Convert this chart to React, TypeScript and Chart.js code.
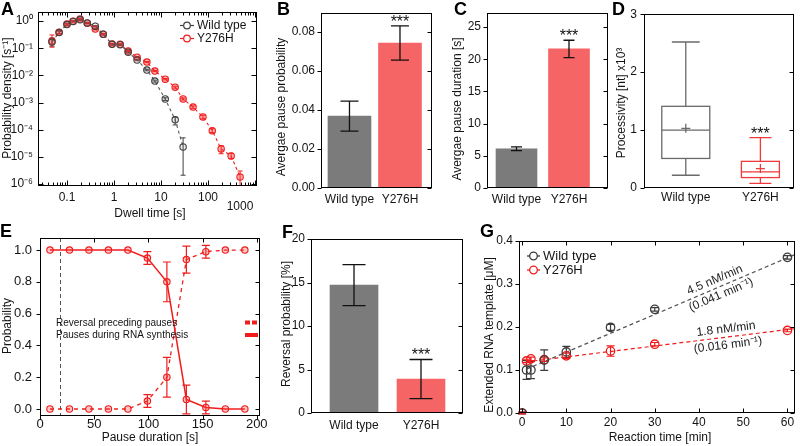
import React, { useEffect, useRef } from 'react';
import { Chart, registerables } from 'chart.js';

Chart.register(...registerables);

const W = 800;
const H = 446;
const FONT = '"Liberation Sans", Arimo, Arial, Helvetica, sans-serif';
const INK = '#141414';
const GREY_BAR = '#7b7b7b';
const RED_BAR = '#f66565';
const RED = '#f01c1c';
const GREY_PT = '#404040';

Chart.defaults.font.family = FONT;
Chart.defaults.font.size = 12;
Chart.defaults.color = INK;

// ---------------- data ----------------
const groups = ['Wild type', 'Y276H'];
const sigMarks = ['', '***'];

// Panel A – dwell time distribution
const dwellTimeWT = [0.048, 0.068, 0.1, 0.135, 0.19, 0.27, 0.4, 0.59, 0.91, 1.35, 2.0, 3.1, 5.0, 7.4, 12.3, 20, 29.5];
const densityWT = [0.17, 0.38, 0.75, 0.98, 1.12, 0.86, 0.65, 0.33, 0.14, 0.135, 0.072, 0.037, 0.0158, 0.0062, 0.00135, 0.00023, 2.3e-5];
const densityWTLo = [0.12, 0.34, 0.7, 0.93, 1.07, 0.82, 0.62, 0.31, 0.13, 0.127, 0.068, 0.035, 0.0148, 0.0057, 0.0012, 0.00015, 2.1e-6];
const densityWTHi = [0.24, 0.43, 0.8, 1.03, 1.17, 0.9, 0.68, 0.35, 0.15, 0.143, 0.076, 0.039, 0.0168, 0.0067, 0.0015, 0.00029, 5.0e-5];
const dwellTimeMut = [0.048, 0.068, 0.1, 0.135, 0.19, 0.27, 0.4, 0.59, 0.91, 1.35, 2.0, 3.1, 5.0, 7.4, 12.3, 20, 29.5, 48, 78, 123, 190, 310, 480];
const densityMut = [0.184, 0.39, 0.78, 1.0, 1.19, 0.84, 0.51, 0.33, 0.143, 0.14, 0.079, 0.047, 0.031, 0.0145, 0.0073, 0.0037, 0.00135, 0.00068, 0.000295, 9.2e-5, 1.95e-5, 1.07e-5, 1.8e-6];
const densityMutLo = [0.11, 0.34, 0.72, 0.94, 1.12, 0.79, 0.48, 0.31, 0.135, 0.132, 0.075, 0.045, 0.0295, 0.0138, 0.0069, 0.0034, 0.00124, 0.00061, 0.00025, 7.8e-5, 1.3e-5, 8.5e-6, 7.8e-7];
const densityMutHi = [0.31, 0.45, 0.84, 1.06, 1.26, 0.89, 0.54, 0.35, 0.151, 0.148, 0.083, 0.049, 0.0325, 0.0152, 0.0077, 0.004, 0.00146, 0.00075, 0.00034, 1.08e-4, 2.6e-5, 1.35e-5, 3.0e-6];
const dwellTicksX = [0.1, 1, 10, 100, 1000];
const dwellTicksY = [1e-6, 1e-5, 1e-4, 1e-3, 1e-2, 1e-1, 1];

// Panel B – average pause probability
const pauseProb = [0.0369, 0.0744];
const pauseProbErr = [0.0077, 0.0088];
const pauseProbTicks = [0, 0.02, 0.04, 0.06, 0.08];

// Panel C – average pause duration
const pauseDurAvg = [6.1, 21.6];
const pauseDurErr = [0.3, 1.35];
const pauseDurTicks = [0, 5, 10, 15, 20, 25];

// Panel D – processivity box plots [min, q1, median, q3, max]
const procWT = [0.22, 0.51, 1.0, 1.41, 2.52];
const procMut = [0.08, 0.18, 0.28, 0.46, 0.87];
const procMean = [1.03, 0.335];
const procTicks = [0, 1, 2, 3];

// Panel E – probability vs pause duration
const pauseBins = [9, 27, 45, 63, 81, 99, 117, 135, 153, 171, 189];
const probSynthesis = [1, 1, 1, 1, 1, 0.95, 0.8, 0.06, 0.01, 0, 0];
const probSynthesisErr = [0, 0, 0, 0, 0, 0.04, 0.125, 0.09, 0.04, 0, 0];
const probReversal = [0, 0, 0, 0, 0, 0.05, 0.2, 0.94, 0.99, 1, 1];
const probReversalErr = [0, 0, 0, 0, 0, 0.04, 0.125, 0.085, 0.04, 0, 0];
const pauseCutoff = 18;
const pauseTicksX = [0, 50, 100, 150, 200];
const probTicksY = [0, 0.2, 0.4, 0.6, 0.8, 1.0];

// Panel F – reversal probability
const revProb = [14.7, 3.9];
const revErr = [2.35, 2.25];
const revTicks = [0, 5, 10, 15, 20];

// Panel G – extended RNA template over time
const rxnTime = [0, 1, 2, 5, 10, 20, 30, 60];
const extWT = [0, 0.1, 0.1, 0.123, 0.142, 0.199, 0.241, 0.362];
const extWTErr = [0.002, 0.022, 0.02, 0.024, 0.013, 0.007, 0.004, 0.004];
const extMut = [0, 0.121, 0.126, 0.124, 0.133, 0.144, 0.16, 0.192];
const extMutErr = [0.002, 0.004, 0.004, 0.004, 0.006, 0.012, 0.004, 0.003];
const fitTime = [1, 61.6];
const fitWT = [0.102, 0.368];
const fitMut = [0.119, 0.196];
const rxnTicks = [0, 10, 20, 30, 40, 50, 60];
const extTicks = [0, 0.1, 0.2, 0.3, 0.4];
const rateLabelsWT = ['4.5 nM/min', '(0.041 min\u207B\u00B9)'];
const rateLabelsMut = ['1.8 nM/min', '(0.016 min\u207B\u00B9)'];

// ---------------- helpers ----------------
type Rect = { l: number; t: number; r: number; b: number };

function sup(n: number): string {
  const m: Record<string, string> = { '-': '\u207B', '0': '\u2070', '1': '\u00B9', '2': '\u00B2', '3': '\u00B3', '4': '\u2074', '5': '\u2075', '6': '\u2076', '7': '\u2077', '8': '\u2078', '9': '\u2079' };
  return String(n).split('').map((c) => m[c] ?? c).join('');
}

function text(ctx: any, s: string, x: number, y: number, o: any = {}) {
  ctx.save();
  ctx.font = `${o.bold ? 'bold ' : ''}${o.size ?? 12}px ${FONT}`;
  ctx.fillStyle = o.color ?? INK;
  ctx.textAlign = o.align ?? 'center';
  ctx.textBaseline = o.base ?? 'middle';
  ctx.translate(x, y);
  if (o.rot) ctx.rotate(o.rot);
  ctx.fillText(s, 0, 0);
  ctx.restore();
}

function vbar(ctx: any, x: number, y1: number, y2: number, cap: number, color: string, lw: number) {
  ctx.save();
  ctx.strokeStyle = color;
  ctx.lineWidth = lw;
  ctx.beginPath();
  ctx.moveTo(x, y1);
  ctx.lineTo(x, y2);
  if (cap > 0) {
    ctx.moveTo(x - cap / 2, y1);
    ctx.lineTo(x + cap / 2, y1);
    ctx.moveTo(x - cap / 2, y2);
    ctx.lineTo(x + cap / 2, y2);
  }
  ctx.stroke();
  ctx.restore();
}

function clipArea(ctx: any, a: any) {
  ctx.save();
  ctx.beginPath();
  ctx.rect(a.left, a.top, a.right - a.left, a.bottom - a.top);
  ctx.clip();
}

function letter(ctx: any, s: string, x: number, y: number) {
  text(ctx, s, x, y, { size: 18, bold: true, align: 'left', base: 'alphabetic', color: '#000' });
}

function stars(ctx: any, s: string, x: number, y: number) {
  if (s) text(ctx, s, x, y, { size: 16, base: 'alphabetic', color: '#111' });
}

interface FrameSpec {
  xMaj?: number[]; yMaj?: number[]; xMin?: number[];
  l?: number; r?: number; t?: number; b?: number;
  len?: number; mlen?: number;
}

function drawFrame(chart: any, f: FrameSpec) {
  const { ctx, chartArea: a } = chart;
  const xs = chart.scales.x;
  const ys = chart.scales.y;
  const L = Math.round(a.left) + 0.5;
  const R = Math.round(a.right) - 0.5;
  const T = Math.round(a.top) + 0.5;
  const B = Math.round(a.bottom) - 0.5;
  const len = f.len ?? 4;
  const mlen = f.mlen ?? 2;
  ctx.save();
  ctx.strokeStyle = '#000';
  ctx.lineWidth = 1;
  ctx.strokeRect(L, T, R - L, B - T);
  ctx.beginPath();
  const yt = (vals: number[], ln: number) => vals.forEach((v) => {
    const p = Math.round(ys.getPixelForValue(v)) + 0.5;
    if (p < a.top - 1 || p > a.bottom + 1) return;
    if (f.l) { ctx.moveTo(L, p); ctx.lineTo(L - f.l * ln, p); }
    if (f.r) { ctx.moveTo(R, p); ctx.lineTo(R + f.r * ln, p); }
  });
  const xt = (vals: number[], ln: number) => vals.forEach((v) => {
    const p = Math.round(xs.getPixelForValue(v)) + 0.5;
    if (p < a.left - 1 || p > a.right + 1) return;
    if (f.t) { ctx.moveTo(p, T); ctx.lineTo(p, T - f.t * ln); }
    if (f.b) { ctx.moveTo(p, B); ctx.lineTo(p, B + f.b * ln); }
  });
  if (f.yMaj) yt(f.yMaj, len);
  if (f.xMaj) xt(f.xMaj, len);
  if (f.xMin) xt(f.xMin, mlen);
  ctx.stroke();
  ctx.restore();
}

const axisBase = { grid: { display: false, drawTicks: false, tickLength: 0 }, border: { display: false } };

function common(rc: Rect) {
  return {
    responsive: false,
    animation: false,
    events: [],
    layout: { padding: { left: 0, top: rc.t, right: W - rc.r, bottom: 0 } },
    plugins: { legend: { display: false }, tooltip: { enabled: false }, title: { display: false } },
  };
}

function xAxis(rc: Rect, extra: any) {
  return { ...axisBase, offset: false, afterFit: (s: any) => { s.height = H - rc.b; }, ...extra };
}
function yAxis(rc: Rect, extra: any) {
  return { ...axisBase, afterFit: (s: any) => { s.width = rc.l; }, ...extra };
}
const fixedTicks = (vals: number[]) => (s: any) => { s.ticks = vals.map((value) => ({ value })); };

// ---------------- panels ----------------
function buildA(cv: HTMLCanvasElement) {
  const rc: Rect = { l: 38, t: 12, r: 257, b: 186 };
  const minor: number[] = [];
  [0.01, 0.1, 1, 10, 100].forEach((d) => { for (let k = 2; k <= 9; k++) minor.push(k * d); });
  const pts = (xs: number[], ys: number[]) => xs.map((x, i) => ({ x, y: ys[i] }));
  return new Chart(cv, {
    type: 'scatter',
    data: {
      datasets: [
        { data: pts(dwellTimeWT, densityWT), showLine: true, borderColor: '#5a5a5a', borderWidth: 1.1, borderDash: [3, 3], pointRadius: 3.2, pointBorderColor: GREY_PT, pointBackgroundColor: 'rgba(90,90,90,0.12)', pointBorderWidth: 1.1 },
        { data: pts(dwellTimeMut, densityMut), showLine: true, borderColor: RED, borderWidth: 1.1, borderDash: [3, 3], pointRadius: 3.2, pointBorderColor: RED, pointBackgroundColor: 'rgba(255,40,40,0.35)', pointBorderWidth: 1.1 },
      ],
    },
    options: {
      ...common(rc),
      scales: {
        x: xAxis(rc, { type: 'logarithmic', min: 0.0242, max: 1100, afterBuildTicks: fixedTicks(dwellTicksX), ticks: { padding: 4, autoSkip: false, maxRotation: 0, callback: (v: number) => (v >= 1000 ? '' : String(v)) } }),
        y: yAxis(rc, { type: 'logarithmic', min: 8.4e-7, max: 2.14, afterBuildTicks: fixedTicks(dwellTicksY), ticks: { padding: 5, autoSkip: false, callback: (v: number) => '10' + sup(Math.round(Math.log10(v))) } }),
      },
    } as any,
    plugins: [{
      id: 'pA',
      beforeDatasetsDraw(c: any) {
        const { ctx, scales: { x, y } } = c;
        clipArea(ctx, c.chartArea);
        dwellTimeWT.forEach((t, i) => vbar(ctx, x.getPixelForValue(t), y.getPixelForValue(densityWTHi[i]), y.getPixelForValue(densityWTLo[i]), 5, GREY_PT, 1));
        dwellTimeMut.forEach((t, i) => vbar(ctx, x.getPixelForValue(t), y.getPixelForValue(densityMutHi[i]), y.getPixelForValue(densityMutLo[i]), 5, RED, 1));
        ctx.restore();
      },
      afterDraw(c: any) {
        const { ctx } = c;
        drawFrame(c, { xMaj: dwellTicksX, yMaj: dwellTicksY, xMin: minor, l: -1, r: -1, t: -1, b: -1, len: 5, mlen: 3 });
        letter(ctx, 'A', 1, 15);
        text(ctx, 'Probability density [s\u207B\u00B9]', 8, 98, { rot: -Math.PI / 2 });
        text(ctx, 'Dwell time [s]', 150, 214);
        text(ctx, '1000', 240, 207);
        // legend
        const leg = [[groups[0], GREY_PT, 25.5], [groups[1], RED, 38.5]] as any[];
        leg.forEach(([s, col, yy]) => {
          ctx.save();
          ctx.strokeStyle = col; ctx.lineWidth = 1.2;
          ctx.beginPath(); ctx.moveTo(180, yy); ctx.lineTo(194, yy); ctx.stroke();
          ctx.beginPath(); ctx.arc(187, yy, 3.3, 0, Math.PI * 2); ctx.fillStyle = '#fff'; ctx.fill(); ctx.stroke();
          ctx.restore();
          text(ctx, s, 197, yy, { align: 'left' });
        });
      },
    }],
  });
}

function barPanel(cv: HTMLCanvasElement, rc: Rect, vals: number[], errs: number[], ticks: number[], xr: [number, number], ymax: number, bw: number, cap: number, fmt: (v: number) => string, lab: string, lpos: [number, number], title: string, tpos: [number, number], labPad: number) {
  return new Chart(cv, {
    type: 'bar',
    data: {
      datasets: [{
        data: vals.map((v, i) => ({ x: i + 1, y: v })),
        backgroundColor: [GREY_BAR, RED_BAR],
        borderWidth: 0,
        barThickness: bw,
      }],
    },
    options: {
      ...common(rc),
      scales: {
        x: xAxis(rc, { type: 'linear', min: xr[0], max: xr[1], afterBuildTicks: fixedTicks([1, 2]), ticks: { padding: labPad, autoSkip: false, maxRotation: 0, callback: (v: number) => groups[v - 1] } }),
        y: yAxis(rc, { type: 'linear', min: 0, max: ymax, afterBuildTicks: fixedTicks(ticks), ticks: { padding: 6, autoSkip: false, callback: fmt } }),
      },
    } as any,
    plugins: [{
      id: 'bars' + lab,
      afterDraw(c: any) {
        const { ctx, scales: { x, y } } = c;
        vals.forEach((v, i) => {
          const px = x.getPixelForValue(i + 1);
          const top = y.getPixelForValue(v + errs[i]);
          vbar(ctx, px, top, y.getPixelForValue(v - errs[i]), cap, '#111', 1.3);
          stars(ctx, sigMarks[i], px, top + 1);
        });
        drawFrame(c, { yMaj: ticks, l: 1, r: -1, len: 4 });
        letter(ctx, lab, lpos[0], lpos[1]);
        text(ctx, title, tpos[0], tpos[1], { rot: -Math.PI / 2 });
      },
    }],
  });
}

function buildD(cv: HTMLCanvasElement) {
  const rc: Rect = { l: 644, t: 12, r: 795, b: 188 };
  const boxes = [procWT, procMut];
  const cols = ['#6a6a6a', '#f03a3a'];
  const widths = [48, 38];
  return new Chart(cv, {
    type: 'scatter',
    data: {
      datasets: [{
        data: procMean.map((v, i) => ({ x: i + 1, y: v })),
        pointStyle: 'cross', pointRadius: 4.5, pointBorderWidth: 1.3,
        pointBorderColor: cols, pointBackgroundColor: cols,
      }],
    },
    options: {
      ...common(rc),
      scales: {
        x: xAxis(rc, { type: 'linear', min: 0.44, max: 2.453, afterBuildTicks: fixedTicks([1, 2]), ticks: { padding: 2, autoSkip: false, maxRotation: 0, callback: (v: number) => groups[v - 1] } }),
        y: yAxis(rc, { type: 'linear', min: 0, max: 3, afterBuildTicks: fixedTicks(procTicks), ticks: { padding: 7, autoSkip: false, callback: (v: number) => String(v) } }),
      },
    } as any,
    plugins: [{
      id: 'pD',
      beforeDatasetsDraw(c: any) {
        const { ctx, scales: { x, y } } = c;
        boxes.forEach((bx, i) => {
          const cx = x.getPixelForValue(i + 1);
          const [mn, q1, md, q3, mx] = bx.map((v) => y.getPixelForValue(v));
          const w = widths[i];
          const cap = w * 0.58;
          ctx.save();
          ctx.strokeStyle = cols[i];
          ctx.lineWidth = 1.3;
          ctx.strokeRect(cx - w / 2, q3, w, q1 - q3);
          ctx.beginPath();
          ctx.moveTo(cx - w / 2, md); ctx.lineTo(cx + w / 2, md);
          ctx.moveTo(cx, q3); ctx.lineTo(cx, mx);
          ctx.moveTo(cx, q1); ctx.lineTo(cx, mn);
          ctx.moveTo(cx - cap / 2, mx); ctx.lineTo(cx + cap / 2, mx);
          ctx.moveTo(cx - cap / 2, mn); ctx.lineTo(cx + cap / 2, mn);
          ctx.stroke();
          ctx.restore();
          stars(ctx, sigMarks[i], cx, mx + 1);
        });
      },
      afterDraw(c: any) {
        const { ctx } = c;
        drawFrame(c, { yMaj: procTicks, l: 1, r: -1, len: 4 });
        letter(ctx, 'D', 612, 15);
        text(ctx, 'Processivity [nt] x10\u00B3', 622, 103, { rot: -Math.PI / 2 });
      },
    }],
  });
}

function buildE(cv: HTMLCanvasElement) {
  const rc: Rect = { l: 40, t: 238, r: 260, b: 416 };
  const pts = (ys: number[]) => pauseBins.map((x, i) => ({ x, y: ys[i] }));
  return new Chart(cv, {
    type: 'scatter',
    data: {
      datasets: [
        { data: pts(probSynthesis), showLine: true, borderColor: RED, borderWidth: 1.5, pointRadius: 3.2, pointBorderColor: RED, pointBackgroundColor: 'rgba(255,60,60,0.3)', pointBorderWidth: 1.1 },
        { data: pts(probReversal), showLine: true, borderColor: RED, borderWidth: 1.3, borderDash: [4, 4], pointRadius: 3.2, pointBorderColor: RED, pointBackgroundColor: 'rgba(255,60,60,0.3)', pointBorderWidth: 1.1 },
      ],
    },
    options: {
      ...common(rc),
      scales: {
        x: xAxis(rc, { type: 'linear', min: -0.2, max: 203, afterBuildTicks: fixedTicks(pauseTicksX), ticks: { padding: 1, autoSkip: false, maxRotation: 0, font: { size: 13 }, callback: (v: number) => String(v) } }),
        y: yAxis(rc, { type: 'linear', min: -0.044, max: 1.076, afterBuildTicks: fixedTicks(probTicksY), ticks: { padding: 8, autoSkip: false, font: { size: 13 }, callback: (v: number) => v.toFixed(1) } }),
      },
    } as any,
    plugins: [{
      id: 'pE',
      beforeDatasetsDraw(c: any) {
        const { ctx, scales: { x, y }, chartArea: a } = c;
        clipArea(ctx, a);
        const px = Math.round(x.getPixelForValue(pauseCutoff)) + 0.5;
        ctx.save();
        ctx.strokeStyle = '#555'; ctx.lineWidth = 1; ctx.setLineDash([4, 3]);
        ctx.beginPath(); ctx.moveTo(px, a.top); ctx.lineTo(px, a.bottom); ctx.stroke();
        ctx.restore();
        pauseBins.forEach((t, i) => {
          const xx = x.getPixelForValue(t);
          if (probSynthesisErr[i] > 0) vbar(ctx, xx, y.getPixelForValue(probSynthesis[i] + probSynthesisErr[i]), y.getPixelForValue(probSynthesis[i] - probSynthesisErr[i]), 8, RED, 1.2);
          if (probReversalErr[i] > 0) vbar(ctx, xx, y.getPixelForValue(probReversal[i] + probReversalErr[i]), y.getPixelForValue(probReversal[i] - probReversalErr[i]), 8, RED, 1.2);
        });
        ctx.restore();
      },
      afterDraw(c: any) {
        const { ctx } = c;
        drawFrame(c, { xMaj: pauseTicksX, yMaj: probTicksY, l: 1, r: -1, t: -1, b: 1, len: 4 });
        letter(ctx, 'E', 0, 237);
        text(ctx, 'Probability', 8, 326, { rot: -Math.PI / 2 });
        text(ctx, 'Pause duration [s]', 150, 438);
        text(ctx, 'Reversal preceding pauses', 56, 323, { align: 'left', size: 10 });
        text(ctx, 'Pauses during RNA synthesis', 56, 335, { align: 'left', size: 10 });
        ctx.save();
        ctx.strokeStyle = RED; ctx.lineWidth = 4;
        ctx.setLineDash([5, 2]);
        ctx.beginPath(); ctx.moveTo(245, 322.5); ctx.lineTo(257, 322.5); ctx.stroke();
        ctx.setLineDash([]);
        ctx.beginPath(); ctx.moveTo(245, 335); ctx.lineTo(258, 335); ctx.stroke();
        ctx.restore();
      },
    }],
  });
}

function buildG(cv: HTMLCanvasElement) {
  const rc: Rect = { l: 519, t: 241, r: 798, b: 413 };
  const pts = (xs: number[], ys: number[]) => xs.map((x, i) => ({ x, y: ys[i] }));
  const cWT = '#3c3c3c';
  return new Chart(cv, {
    type: 'scatter',
    data: {
      datasets: [
        { data: pts(rxnTime, extWT), pointRadius: 4.2, pointBorderColor: cWT, pointBackgroundColor: 'rgba(0,0,0,0)', pointBorderWidth: 1.3 },
        { data: pts(rxnTime, extMut), pointRadius: 4.2, pointBorderColor: RED, pointBackgroundColor: 'rgba(0,0,0,0)', pointBorderWidth: 1.3 },
        { data: pts(fitTime, fitWT), showLine: true, pointRadius: 0, borderColor: '#555', borderWidth: 1.2, borderDash: [4, 3] },
        { data: pts(fitTime, fitMut), showLine: true, pointRadius: 0, borderColor: RED, borderWidth: 1.2, borderDash: [4, 3] },
      ],
    },
    options: {
      ...common(rc),
      scales: {
        x: xAxis(rc, { type: 'linear', min: -0.7, max: 61.6, afterBuildTicks: fixedTicks(rxnTicks), ticks: { padding: 2, autoSkip: false, maxRotation: 0, callback: (v: number) => String(v) } }),
        y: yAxis(rc, { type: 'linear', min: 0, max: 0.4, afterBuildTicks: fixedTicks(extTicks), ticks: { padding: 6, autoSkip: false, callback: (v: number) => v.toFixed(1) } }),
      },
    } as any,
    plugins: [{
      id: 'pG',
      beforeDatasetsDraw(c: any) {
        const { ctx, scales: { x, y } } = c;
        rxnTime.forEach((t, i) => {
          const xx = x.getPixelForValue(t);
          vbar(ctx, xx, y.getPixelForValue(extWT[i] + extWTErr[i]), y.getPixelForValue(extWT[i] - extWTErr[i]), 8, cWT, 1.2);
          vbar(ctx, xx, y.getPixelForValue(extMut[i] + extMutErr[i]), y.getPixelForValue(extMut[i] - extMutErr[i]), 8, RED, 1.2);
        });
      },
      afterDraw(c: any) {
        const { ctx, scales: { x, y } } = c;
        drawFrame(c, { xMaj: rxnTicks, yMaj: extTicks, l: 1, r: -1, t: -1, b: -1, len: 4 });
        letter(ctx, 'G', 480, 237);
        text(ctx, 'Extended RNA template [\u03BCM]', 490, 335, { rot: -Math.PI / 2 });
        text(ctx, 'Reaction time [min]', 660, 438);
        const leg = [[groups[0], cWT, 256], [groups[1], RED, 270]] as any[];
        leg.forEach(([s, col, yy]) => {
          ctx.save();
          ctx.strokeStyle = col; ctx.lineWidth = 1.3;
          ctx.beginPath(); ctx.moveTo(527, yy); ctx.lineTo(540, yy); ctx.stroke();
          ctx.beginPath(); ctx.arc(533.5, yy, 3.8, 0, Math.PI * 2); ctx.fillStyle = '#fff'; ctx.fill(); ctx.stroke();
          ctx.restore();
          text(ctx, s, 543, yy, { align: 'left', size: 13 });
        });
        const ann = (fit: number[], labels: string[], ax: number, col: string) => {
          const p1x = x.getPixelForValue(fitTime[0]);
          const p1y = y.getPixelForValue(fit[0]);
          const p2x = x.getPixelForValue(fitTime[1]);
          const p2y = y.getPixelForValue(fit[1]);
          const ang = Math.atan2(p2y - p1y, p2x - p1x);
          const ay = p1y + (p2y - p1y) * (ax - p1x) / (p2x - p1x);
          ctx.save();
          ctx.translate(ax, ay);
          ctx.rotate(ang);
          ctx.font = `12px ${FONT}`;
          ctx.fillStyle = col;
          ctx.textAlign = 'center';
          ctx.textBaseline = 'middle';
          ctx.fillText(labels[0], 0, -8);
          ctx.fillText(labels[1], 0, 8);
          ctx.restore();
        };
        ann(fitWT, rateLabelsWT, 718, '#222');
        ann(fitMut, rateLabelsMut, 727, '#222');
      },
    }],
  });
}

export default function App() {
  const refs = [useRef<HTMLCanvasElement>(null), useRef<HTMLCanvasElement>(null), useRef<HTMLCanvasElement>(null), useRef<HTMLCanvasElement>(null), useRef<HTMLCanvasElement>(null), useRef<HTMLCanvasElement>(null), useRef<HTMLCanvasElement>(null)];
  useEffect(() => {
    const cv = refs.map((r) => r.current as HTMLCanvasElement);
    const charts = [
      buildA(cv[0]),
      barPanel(cv[1], { l: 321, t: 12, r: 432, b: 188 }, pauseProb, pauseProbErr, pauseProbTicks, [0.436, 2.634], 0.0897, 43, 18, (v) => v.toFixed(2), 'B', [277, 15], 'Avergae pause probability', [282, 107], 4),
      barPanel(cv[2], { l: 487, t: 12, r: 608, b: 188 }, pauseDurAvg, pauseDurErr, pauseDurTicks, [0.438, 2.743], 27.15, 41, 11, (v) => String(v), 'C', [454, 15], 'Avergae pause duration [s]', [458, 109], 4),
      buildD(cv[3]),
      buildE(cv[4]),
      barPanel(cv[5], { l: 311, t: 239, r: 463, b: 413 }, revProb, revErr, revTicks, [0.358, 2.627], 20, 48, 23, (v) => String(v), 'F', [282, 238], 'Reversal probability [%]', [287, 324], 5),
      buildG(cv[6]),
    ];
    return () => charts.forEach((c) => c.destroy());
  }, []);
  return (
    <div style={{ position: 'fixed', left: 0, top: 0, width: W, height: H, background: '#fff', overflow: 'hidden' }}>
      {refs.map((r, i) => (
        <canvas key={i} ref={r} width={W} height={H} style={{ position: 'absolute', left: 0, top: 0, width: W, height: H }} />
      ))}
    </div>
  );
}
